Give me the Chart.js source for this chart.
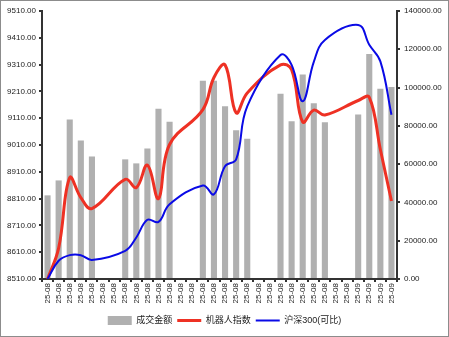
<!DOCTYPE html>
<html>
<head>
<meta charset="utf-8">
<script src="https://cdn.jsdelivr.net/npm/chart.js@4"></script>
<style>
  html, body { margin: 0; padding: 0; background: #fff; }
  #wrap { width: 449px; height: 337px; box-sizing: border-box; border: 1px solid #8c8c8c; position: relative; }
  #wrap canvas { display: block; }
</style>
</head>
<body>
<div id="wrap"><canvas id="chart" width="447" height="335"></canvas></div>
<script>
// 32 calendar days, weekends have no trading data (null)
const categories = [
  '25-08', '25-08', '25-08', '25-08', '25-08', '25-08', '25-08', '25-08',
  '25-08', '25-08', '25-08', '25-08', '25-08', '25-08', '25-08', '25-08',
  '25-08', '25-08', '25-08', '25-08', '25-08', '25-08', '25-08', '25-08',
  '25-08', '25-08', '25-08', '25-08', '25-09', '25-09', '25-09', '25-09'
];

// 成交金额 (right axis)
const turnover = [
  43700, 51500, 83300, 72300, 64000, null, null,
  62500, 60400, 68200, 89000, 82200, null, null,
  103600, 103600, 90200, 77700, 73200, null, null,
  96800, 82400, 106800, 91800, 81900, null, null,
  85900, 117600, 99400, 100300
];

// 机器人指数 (left axis)
const robotIndex = [
  8510, 8625, 8888, 8814, 8773, null, null,
  8882, 8851, 8935, 8810, 9012, null, null,
  9142, 9262, 9309, 9130, 9204, null, null,
  9309, 9291, 9096, 9140, 9122, null, null,
  9176, 9188, 8993, 8801
];

// 沪深300(可比) (left axis)
const hs300 = [
  8510, 8578, 8599, 8599, 8581, null, null,
  8615, 8665, 8731, 8723, 8789, null, null,
  8859, 8826, 8931, 8956, 9154, null, null,
  9346, 9309, 9173, 9320, 9402, null, null,
  9458, 9384, 9322, 9123
];

const leftTicks = { min: 8510, max: 9510, step: 100 };
const rightTicks = { min: 0, max: 140000, step: 20000 };

const FONT = "'Liberation Sans', Arial, 'Noto Sans CJK SC', sans-serif";
const axisColor = '#333333';

const ctx = document.getElementById('chart').getContext('2d');
new Chart(ctx, {
  data: {
    labels: categories,
    datasets: [
      {
        type: 'line',
        label: '机器人指数',
        data: robotIndex,
        yAxisID: 'yLeft',
        borderColor: '#ee3124',
        backgroundColor: '#ee3124',
        borderWidth: 3,
        pointRadius: 0,
        tension: 0.4,
        spanGaps: true,
        pointStyle: 'line',
        order: 1
      },
      {
        type: 'line',
        label: '沪深300(可比)',
        data: hs300,
        yAxisID: 'yLeft',
        borderColor: '#0a0ae6',
        backgroundColor: '#0a0ae6',
        borderWidth: 2,
        pointRadius: 0,
        tension: 0.4,
        spanGaps: true,
        pointStyle: 'line',
        order: 0
      },
      {
        type: 'bar',
        label: '成交金额',
        data: turnover,
        yAxisID: 'yRight',
        backgroundColor: '#b0b0b0',
        borderWidth: 0,
        barPercentage: 0.55,
        categoryPercentage: 1,
        pointStyle: 'rect',
        order: 2
      }
    ]
  },
  options: {
    responsive: false,
    animation: false,
    layout: { padding: { top: 10, left: 0, right: 0, bottom: 1 } },
    plugins: {
      legend: {
        position: 'bottom',
        reverse: true,
        labels: {
          usePointStyle: true,
          pointStyleWidth: 24,
          boxHeight: 11,
          padding: 5,
          color: '#222',
          font: { family: FONT, size: 9 }
        }
      },
      tooltip: { enabled: false }
    },
    scales: {
      x: {
        offset: true,
        grid: { display: true, drawOnChartArea: false, color: axisColor, lineWidth: 2, tickLength: 3, offset: true },
        border: { display: true, color: axisColor, width: 2 },
        ticks: {
          autoSkip: false,
          minRotation: 90,
          maxRotation: 90,
          padding: 1,
          color: '#222',
          font: { family: FONT, size: 8 }
        },
        afterFit: s => { s.height = 32; }
      },
      yLeft: {
        type: 'linear',
        position: 'left',
        min: leftTicks.min,
        max: leftTicks.max,
        grid: { display: true, drawOnChartArea: false, color: axisColor, lineWidth: 2, tickLength: 3 },
        border: { display: true, color: axisColor, width: 2 },
        ticks: {
          stepSize: leftTicks.step,
          padding: 3,
          color: '#222',
          font: { family: FONT, size: 8 },
          callback: v => Number(v).toFixed(2)
        },
        afterFit: s => { s.width = 41; }
      },
      yRight: {
        type: 'linear',
        position: 'right',
        min: rightTicks.min,
        max: rightTicks.max,
        grid: { display: true, drawOnChartArea: false, color: axisColor, lineWidth: 2, tickLength: 3 },
        border: { display: true, color: axisColor, width: 2 },
        ticks: {
          stepSize: rightTicks.step,
          padding: 4,
          color: '#222',
          font: { family: FONT, size: 8 },
          callback: v => Number(v).toFixed(2)
        },
        afterFit: s => { s.width = 51; }
      }
    }
  }
});
</script>
</body>
</html>
